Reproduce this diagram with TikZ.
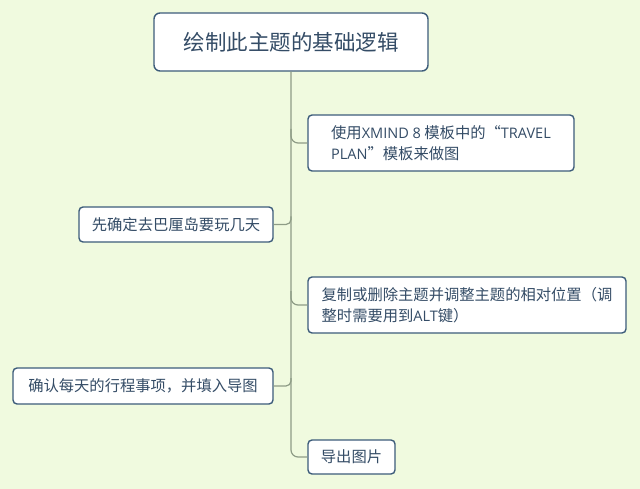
\documentclass[tikz,border=0pt]{standalone}
\usepackage{fontspec}
\setmainfont{Noto Sans CJK SC}
\newfontfamily\latn{Open Sans}[Scale=0.95]
\usetikzlibrary{calc}
\definecolor{bg}{HTML}{F0FADF}
\definecolor{bord}{HTML}{3D5C7A}
\definecolor{txt}{HTML}{344C66}
\definecolor{conn}{HTML}{8E9C86}
\tikzset{
  topic/.style={draw=bord, line width=1.4pt, fill=white, rounded corners=4pt,
    text=txt, align=left, inner sep=0pt, font=\fontsize{15.3}{21}\selectfont},
  roottopic/.style={topic, rounded corners=6pt, font=\fontsize{21.5}{26}\selectfont},
  link/.style={draw=conn, line width=1.2pt, rounded corners=7pt}
}
\begin{document}
\begin{tikzpicture}[x=1pt,y=-1pt]
\fill[bg] (0,0) rectangle (640,489);
\useasboundingbox (0,0) rectangle (640,489);
\node[roottopic, minimum width=274pt, minimum height=58pt] (root) at (291,42) {绘制此主题的基础逻辑};
\node[topic, minimum width=266pt, minimum height=56pt] (b1) at (441,143) {使用{\latn XMIND 8} 模板中的“{\latn TRAVEL}\\{\latn PLAN}”模板来做图};
\node[topic, minimum width=194pt, minimum height=35pt] (b2) at (176,224.5) {先确定去巴厘岛要玩几天};
\node[topic, minimum width=318pt, minimum height=56pt] (b3) at (467,305) {复制或删除主题并调整主题的相对位置（调\\整时需要用到{\latn ALT}键）};
\node[topic, minimum width=260pt, minimum height=36pt] (b4) at (143,386) {确认每天的行程事项，并填入导图};
\node[topic, minimum width=87pt, minimum height=34pt] (b5) at (351.5,457) {导出图片};
% trunk
\draw[link] (root.south) |- (b5.west);
\draw[link] (b1.west) -| ($(root.south |- b1.west)+(0,-14)$);
\draw[link] (b3.west) -| ($(root.south |- b3.west)+(0,-14)$);
\draw[link, rounded corners=5pt] (b2.east) -| ($(root.south |- b2.east)+(0,-8)$);
\draw[link, rounded corners=5pt] (b4.east) -| ($(root.south |- b4.east)+(0,-8)$);
\end{tikzpicture}
\end{document}
